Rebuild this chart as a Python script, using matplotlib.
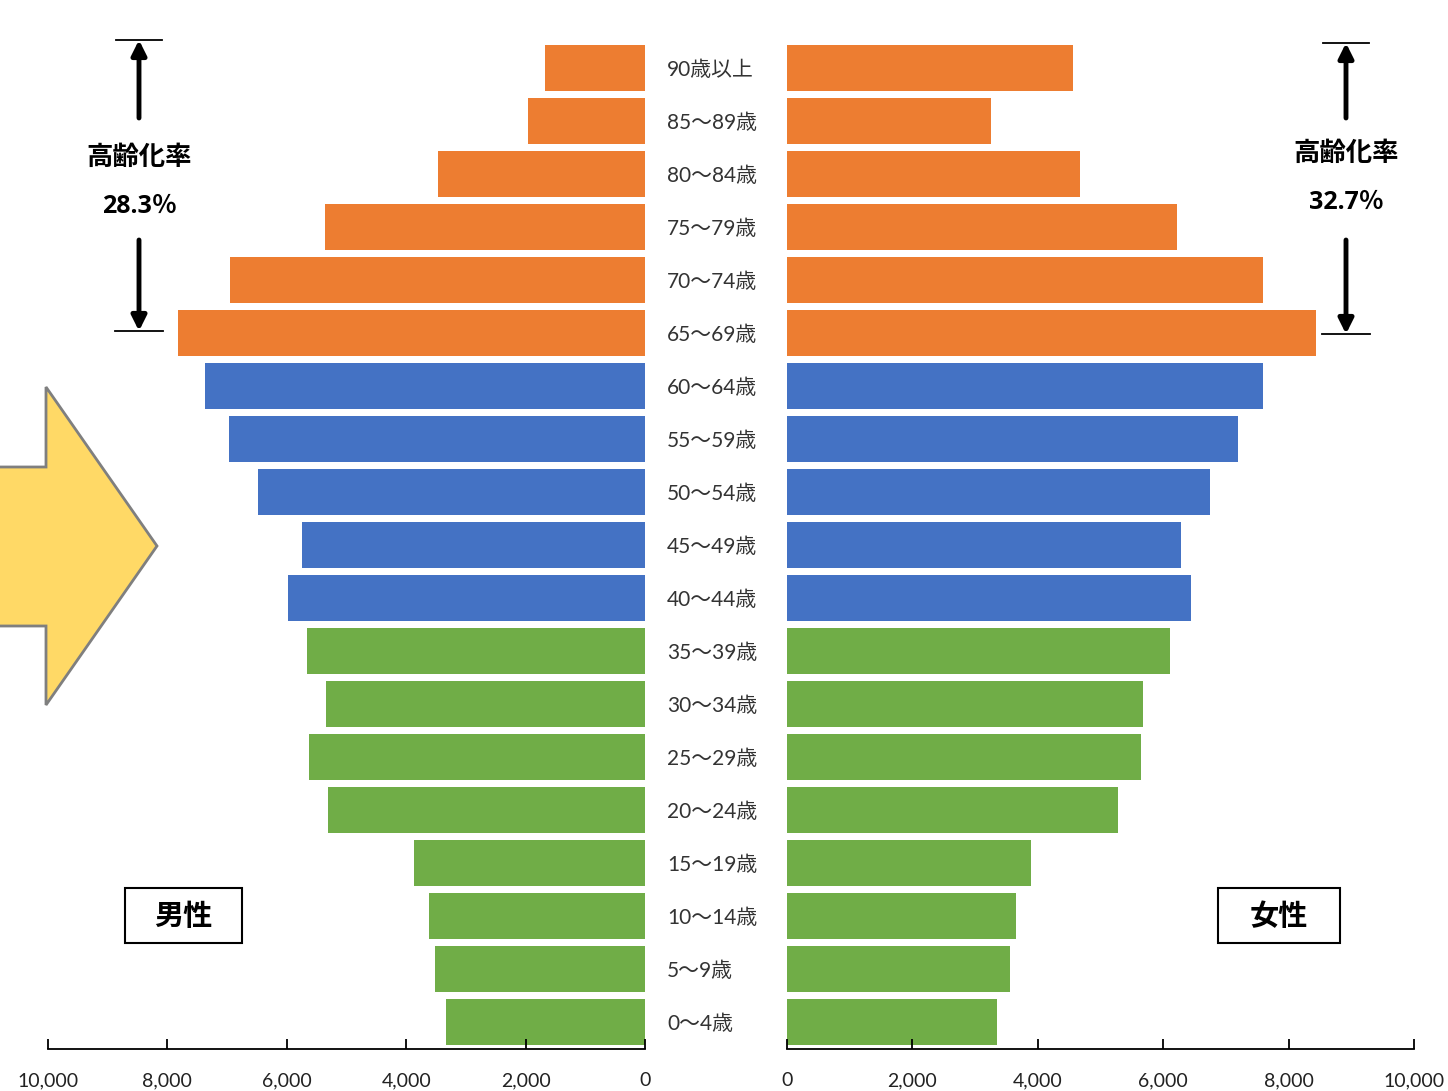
import numpy as np
import matplotlib
matplotlib.use('Agg')
import matplotlib.pyplot as plt
from matplotlib.patches import Polygon, Rectangle
from matplotlib.ticker import FuncFormatter
import matplotlib.transforms as mtransforms

plt.rcParams['font.family'] = ['Lato', 'Noto Sans CJK JP', 'DejaVu Sans']

# age groups, youngest first
ages = ['0～4歳', '5～9歳', '10～14歳', '15～19歳', '20～24歳', '25～29歳',
        '30～34歳', '35～39歳', '40～44歳', '45～49歳', '50～54歳', '55～59歳',
        '60～64歳', '65～69歳', '70～74歳', '75～79歳', '80～84歳', '85～89歳',
        '90歳以上']
male = [3330, 3520, 3620, 3870, 5310, 5630, 5340, 5660, 5980, 5750, 6480,
        6970, 7370, 7820, 6950, 5360, 3470, 1960, 1680]
female = [3350, 3560, 3650, 3890, 5280, 5650, 5680, 6110, 6440, 6280, 6750,
          7190, 7590, 8440, 7590, 6220, 4670, 3250, 4560]
# 0 = under 40, 1 = 40-64, 2 = 65 and over
group = [0] * 8 + [1] * 5 + [2] * 6
group_colors = ['#70AD47', '#4472C4', '#ED7D31']
aging_rate = {'男性': '28.3％', '女性': '32.7％'}
ticks = [0, 2000, 4000, 6000, 8000, 10000]

W, H = 1448, 1091
fig = plt.figure(figsize=(W / 100, H / 100), dpi=100)

def px(x0, y0, w, h):
    # pixel box (top-left origin) -> figure fraction rect
    return [x0 / W, 1 - (y0 + h) / H, w / W, h / H]

axL = fig.add_axes(px(48, 41.5, 597, 1007))
axR = fig.add_axes(px(787, 41.5, 627, 1007))

y = np.arange(len(ages))
colors = [group_colors[g] for g in group]
axL.barh(y, male, height=0.88, color=colors)
axR.barh(y, female, height=0.88, color=colors)

fmt = FuncFormatter(lambda v, p: f'{int(v):,}')
for ax in (axL, axR):
    ax.set_ylim(-0.5, len(ages) - 0.5)
    ax.set_xlim(0, 10000)
    ax.set_xticks(ticks)
    ax.xaxis.set_major_formatter(fmt)
    ax.set_yticks([])
    for s in ('top', 'left', 'right'):
        ax.spines[s].set_visible(False)
    ax.spines['bottom'].set_linewidth(1.3)
    ax.tick_params(axis='x', direction='in', length=7, width=1.3,
                   labelsize=14, pad=17, labelcolor='#222222')
axL.invert_xaxis()

# age labels between the two halves
tr = mtransforms.blended_transform_factory(fig.transFigure, axL.transData)
for i, a in enumerate(ages):
    axL.text(667 / W, i - 0.04, a, transform=tr, ha='left', va='center',
             fontsize=15, color='#333333', clip_on=False)

# overlay in pixel coordinates for shapes and notes
ov = fig.add_axes([0, 0, 1, 1], zorder=5)
ov.set_xlim(0, W)
ov.set_ylim(H, 0)
ov.axis('off')
ov.patch.set_alpha(0)

ov.add_patch(Polygon([(-5, 467), (46, 467), (46, 387), (157, 546),
                      (46, 705), (46, 626), (-5, 626)], closed=True,
                     facecolor='#FFD966', edgecolor='#7F7F7F', lw=2))

def rate_note(xc, top, bottom, lab_y, text):
    ov.plot([xc - 23, xc + 23], [top, top], color='black', lw=1.3)
    ov.plot([xc - 24, xc + 24], [bottom, bottom], color='black', lw=1.3)
    ov.annotate('', xy=(xc, top), xytext=(xc, 118),
                arrowprops=dict(arrowstyle='-|>', lw=3.5, color='black',
                                mutation_scale=22, shrinkA=0, shrinkB=0))
    ov.annotate('', xy=(xc, bottom), xytext=(xc, 240),
                arrowprops=dict(arrowstyle='-|>', lw=3.5, color='black',
                                mutation_scale=22, shrinkA=0, shrinkB=0))
    ov.text(xc, lab_y, '高齢化率', ha='center', va='center', fontsize=19,
            fontweight='bold', family='Noto Sans CJK JP')
    ov.text(xc, lab_y + 49, text, ha='center', va='center', fontsize=18,
            fontweight='bold', family=['Open Sans', 'Noto Sans CJK JP'])

rate_note(139, 40, 331, 157, aging_rate['男性'])
rate_note(1346, 43, 334, 153, aging_rate['女性'])

for (x0, x1), lab in zip([(125, 242), (1218, 1340)], ['男性', '女性']):
    ov.add_patch(Rectangle((x0, 888), x1 - x0, 55, facecolor='white',
                           edgecolor='black', lw=1.5))
    ov.text((x0 + x1) / 2, 916, lab, ha='center', va='center', fontsize=21,
            fontweight='bold', family='Noto Sans CJK JP')

fig.savefig('out.png', dpi=100)
